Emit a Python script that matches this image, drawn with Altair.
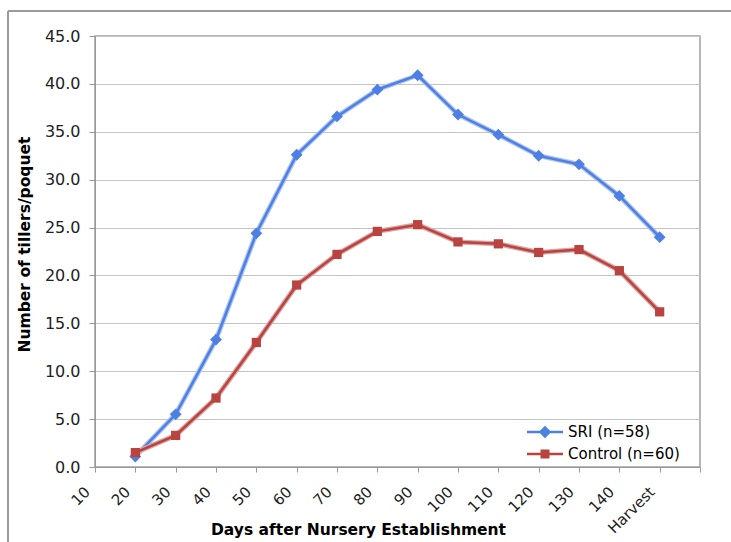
import altair as alt
import pandas as pd

# Category axis: sampling days after nursery establishment, plus harvest
categories = ["10", "20", "30", "40", "50", "60", "70", "80", "90",
              "100", "110", "120", "130", "140", "Harvest"]
days = ["20", "30", "40", "50", "60", "70", "80", "90",
        "100", "110", "120", "130", "140", "Harvest"]

# Mean tillers per poquet
sri = [1.1, 5.5, 13.3, 24.4, 32.6, 36.6, 39.4, 40.9, 36.8, 34.7, 32.5, 31.6, 28.3, 24.0]
control = [1.5, 3.3, 7.2, 13.0, 19.0, 22.2, 24.6, 25.3, 23.5, 23.3, 22.4, 22.7, 20.5, 16.2]

series_names = ["SRI (n=58)", "Control (n=60)"]
line_colors = ["#4e80e3", "#b8433f"]
halo_colors = ["#aec4f1", "#dba3a1"]
marker_shapes = ["diamond", "square"]
marker_sizes = [140, 85]

# Legend glyphs: a short line with the series marker in the middle
legend_glyphs = [
    "M-2,-0.15H2V0.15H-2Z M0,-0.7L0.7,0L0,0.7L-0.7,0Z",
    "M-2,-0.15H2V0.15H-2Z M-0.5,-0.5H0.5V0.5H-0.5Z",
]

FONT = "DejaVu Sans"

rows = []
for name, vals in zip(series_names, [sri, control]):
    for d, v in zip(days, vals):
        rows.append({"day": d, "value": v, "series": name})
df = pd.DataFrame(rows)

x_enc = alt.X(
    "day:N",
    scale=alt.Scale(type="point", domain=categories + [""], padding=0),
    axis=alt.Axis(
        title="Days after Nursery Establishment",
        titleFont=FONT, titleFontSize=15.5, titleFontWeight="bold", titleColor="#000",
        titleX=263, titleY=67, titleAlign="center", titleBaseline="alphabetic",
        labelFont=FONT, labelFontSize=15, labelColor="#222",
        labelAngle=-45, labelAlign="right", labelBaseline="middle",
        labelPadding=17, labelOffset=-8, labelOverlap=False, labelFlush=False,
        tickSize=5, tickColor="#999", domainColor="#999", grid=False,
    ),
)
y_enc = alt.Y(
    "value:Q",
    scale=alt.Scale(domain=[0, 45], nice=False),
    axis=alt.Axis(
        title="Number of tillers/poquet",
        titleFont=FONT, titleFontSize=15.5, titleFontWeight="bold", titleColor="#000",
        titleX=-71, titleY=208, titleAngle=270, titleAlign="center", titleBaseline="middle",
        labelFont=FONT, labelFontSize=16, labelColor="#222", labelPadding=9,
        values=list(range(0, 50, 5)), format=".1f",
        tickSize=6, tickColor="#999", domainColor="#999",
        grid=True, gridColor="#c4c4c4", gridWidth=1,
    ),
)

base = alt.Chart(df)
layers = []
for name, lc, hc, shp, sz in zip(series_names, line_colors, halo_colors,
                                 marker_shapes, marker_sizes):
    sub = base.transform_filter(alt.datum.series == name)
    layers.append(sub.mark_line(color=hc, strokeWidth=5).encode(x=x_enc, y=y_enc))
    layers.append(sub.mark_line(color=lc, strokeWidth=2.5).encode(x=x_enc, y=y_enc))
    layers.append(sub.mark_point(shape=shp, filled=True, size=sz, color=lc,
                                 opacity=1).encode(x=x_enc, y=y_enc))

legend = alt.Legend(
    title=None, orient="none", legendX=441, legendY=387,
    symbolSize=324, symbolStrokeWidth=0, symbolOpacity=1,
    labelFont=FONT, labelFontSize=15, labelColor="#000", labelOffset=14,
    padding=0, rowPadding=5,
)
legend_layer = base.transform_filter("datum.value < 0").mark_point(filled=True).encode(
    x=x_enc, y=y_enc,
    color=alt.Color("series:N", scale=alt.Scale(domain=series_names, range=line_colors),
                    legend=legend),
    shape=alt.Shape("series:N", scale=alt.Scale(domain=series_names, range=legend_glyphs),
                    legend=legend),
)
layers.append(legend_layer)

# Outer frame around the whole figure (left and top edges)
frame_src = alt.Chart(pd.DataFrame({"k": [0]}))
frame_top = frame_src.mark_rule(color="#9a9a9a", strokeWidth=2).encode(
    x=alt.value(-87), x2=alt.value(700), y=alt.value(-25))
frame_left = frame_src.mark_rule(color="#9a9a9a", strokeWidth=2).encode(
    x=alt.value(-87), y=alt.value(-25), y2=alt.value(520))

chart = alt.layer(frame_top, frame_left, *layers).properties(
    width=605, height=431,
    padding={"left": 95, "top": 36, "right": 31, "bottom": 75},
    autosize=alt.AutoSizeParams(type="none"),
    background="white",
).configure_view(stroke="#a0a0a0", strokeWidth=1.5)

chart.save("out.html", embed_options={"renderer": "svg", "actions": False})
